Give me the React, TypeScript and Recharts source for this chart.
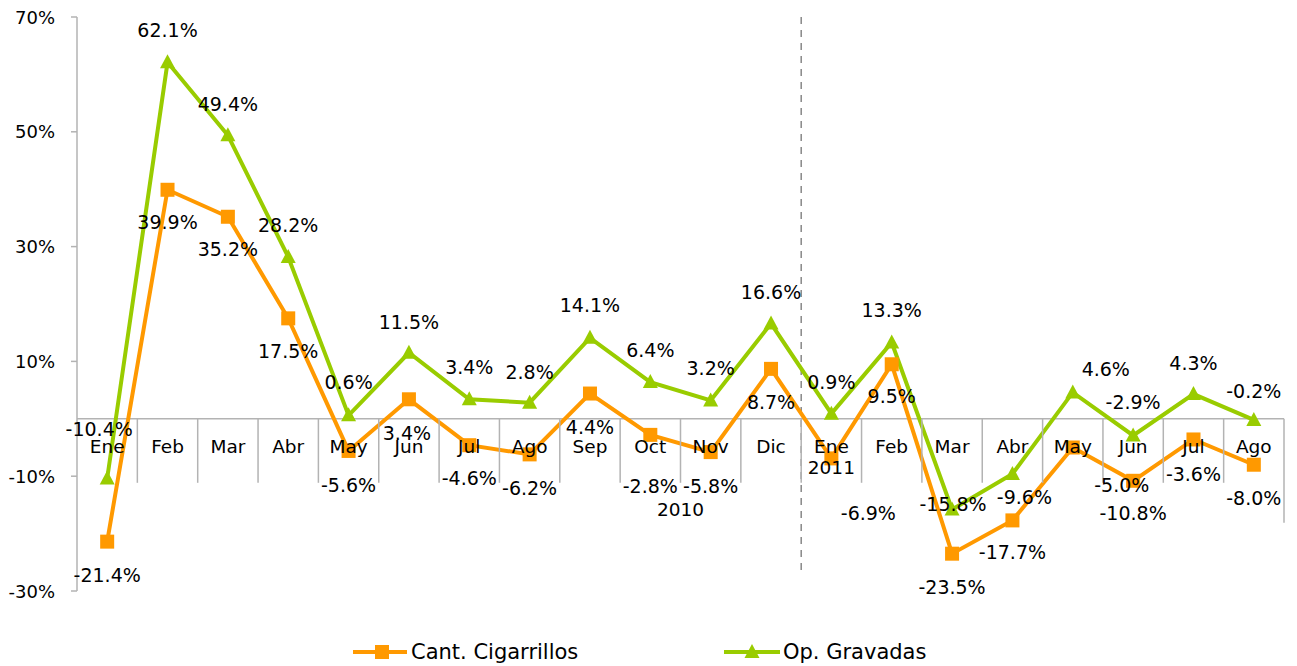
import React from "react";
import { LineChart, Line, XAxis, YAxis, ReferenceLine, LabelList } from "recharts";

const months = ["Ene", "Feb", "Mar", "Abr", "May", "Jun", "Jul", "Ago", "Sep", "Oct", "Nov", "Dic", "Ene", "Feb", "Mar", "Abr", "May", "Jun", "Jul", "Ago"];
const years = ["2010", "2011"];
const cantCigarrillos = [-21.4, 39.9, 35.2, 17.5, -5.6, 3.4, -4.6, -6.2, 4.4, -2.8, -5.8, 8.7, -6.9, 9.5, -23.5, -17.7, -5.0, -10.8, -3.6, -8.0];
const opGravadas = [-10.4, 62.1, 49.4, 28.2, 0.6, 11.5, 3.4, 2.8, 14.1, 6.4, 3.2, 16.6, 0.9, 13.3, -15.8, -9.6, 4.6, -2.9, 4.3, -0.2];
const yTicks = [-30, -10, 10, 30, 50, 70];

// label nudges (px) where the original labels were moved by hand
const orangeDx = [0, 0, 0, 0, 0, -2, 0, 0, 0, 0, 0, 0, 37, 0, 0, 0, 49, 0, 0, 0];
const orangeDy = [33, 32, 32, 33, 34, 34, 33, 34, 33, 51, 34, 33, 55, 32, 33, 32, 37, 32, 35, 33];
const greenDx = [-8, 0, 0, 0, 0, 0, 0, 0, 0, 0, 0, 0, 0, 0, 1, 12, 33, 0, 0, 0];
const greenDy = [-49, -32, -31, -32, -33, -31, -32, -31, -33, -32, -32, -32, -32, -32, -5, 23, -23, -33, -31, -29];

const data = months.map((m, i) => ({
  key: `${m} ${i < 12 ? years[0] : years[1]}`,
  cant: cantCigarrillos[i],
  op: opGravadas[i],
}));

const W = 1297;
const H = 666;
const TOP = 17;
const BOTTOM = 74;
const LEFT = 77;
const RIGHT = 13;
const PLOT_H = H - TOP - BOTTOM - 1;
const PLOT_W = W - LEFT - RIGHT;
const BAND = PLOT_W / months.length;
const ZERO_Y = TOP + (PLOT_H * 70) / 100;

const ORANGE = "#FF9900";
const GREEN = "#99CC00";
const AXIS = "#B3B3B3";
const FONT = "'DejaVu Sans', Verdana, sans-serif";

const fmt = (v: number) => `${v.toFixed(1)}%`;

function MonthTick(props: any) {
  const { x, payload } = props;
  const i = payload?.index ?? props.index;
  const right = x + BAND / 2;
  const last = i === months.length - 1;
  return (
    <g>
      <text x={x} y={ZERO_Y + 28} textAnchor="middle" dominantBaseline="central" fontSize={18.5} fontFamily={FONT} fill="#000">
        {months[i]}
      </text>
      <line x1={right} x2={right} y1={ZERO_Y} y2={ZERO_Y + (last ? 104 : 64)} stroke={AXIS} strokeWidth={1.5} />
      {i === 9 && (
        <text x={right} y={ZERO_Y + 91} textAnchor="middle" dominantBaseline="central" fontSize={18.5} fontFamily={FONT} fill="#000">
          {years[0]}
        </text>
      )}
      {i === 12 && (
        <text x={x} y={ZERO_Y + 49} textAnchor="middle" dominantBaseline="central" fontSize={18.5} fontFamily={FONT} fill="#000">
          {years[1]}
        </text>
      )}
    </g>
  );
}

function PercentTick(props: any) {
  const { x, y, payload } = props;
  return (
    <text x={x} y={y} textAnchor="end" dominantBaseline="central" fontSize={18} fontFamily={FONT} fill="#000">
      {`${payload.value}%`}
    </text>
  );
}

function SquareDot(props: any) {
  const { cx, cy } = props;
  if (cx == null || cy == null) return <g />;
  return <rect x={cx - 7} y={cy - 7} width={14} height={14} fill={ORANGE} />;
}

function TriangleDot(props: any) {
  const { cx, cy } = props;
  if (cx == null || cy == null) return <g />;
  return <path d={`M${cx},${cy - 8} L${cx + 7.5},${cy + 6} L${cx - 7.5},${cy + 6} Z`} fill={GREEN} />;
}

const makeLabel = (dx: number[], dy: number[]) => (p: any) => {
  const { x, y, value, index } = p;
  return (
    <text
      x={x + dx[index]}
      y={y + dy[index]}
      textAnchor="middle"
      dominantBaseline="central"
      fontSize={19}
      fontFamily={FONT}
      fill="#000"
    >
      {fmt(value)}
    </text>
  );
};

function DashedDivider(props: any) {
  const { x1, y1, x2, y2 } = props;
  const top = Math.min(y1, y2);
  const bottom = Math.max(y1, y2);
  return (
    <line
      x1={x1 + BAND / 2}
      y1={top}
      x2={x2 + BAND / 2}
      y2={bottom - 18}
      stroke="#888"
      strokeWidth={1.5}
      strokeDasharray="7 6"
    />
  );
}

export default function App() {
  return (
    <div style={{ position: "absolute", left: 0, top: 0, width: W, height: H, background: "#fff" }}>
      <LineChart width={W} height={H} data={data} margin={{ top: TOP, right: RIGHT, left: 0, bottom: BOTTOM }}>
        <XAxis
          dataKey="key"
          height={1}
          axisLine={false}
          tickLine={false}
          interval={0}
          padding={{ left: BAND / 2, right: BAND / 2 }}
          tick={<MonthTick />}
        />
        <YAxis
          width={LEFT}
          domain={[-30, 70]}
          ticks={yTicks}
          tick={<PercentTick />}
          axisLine={{ stroke: AXIS, strokeWidth: 1.5 }}
          tickLine={{ stroke: AXIS, strokeWidth: 1.5 }}
          tickSize={6}
          tickMargin={16}
        />
        <ReferenceLine y={0} stroke={AXIS} strokeWidth={1.5} />
        <ReferenceLine x={data[11].key} shape={<DashedDivider />} />
        <Line
          dataKey="cant"
          stroke={ORANGE}
          strokeWidth={4}
          dot={<SquareDot />}
          activeDot={false}
          isAnimationActive={false}
        >
          <LabelList dataKey="cant" content={makeLabel(orangeDx, orangeDy)} />
        </Line>
        <Line
          dataKey="op"
          stroke={GREEN}
          strokeWidth={4}
          dot={<TriangleDot />}
          activeDot={false}
          isAnimationActive={false}
        >
          <LabelList dataKey="op" content={makeLabel(greenDx, greenDy)} />
        </Line>
      </LineChart>
      <svg width={W} height={40} style={{ position: "absolute", left: 0, top: 632 }}>
        <g fontFamily={FONT} fontSize={21} fill="#000">
          <line x1={353} x2={407} y1={20} y2={20} stroke={ORANGE} strokeWidth={4} />
          <rect x={375} y={13} width={14} height={14} fill={ORANGE} />
          <text x={411} y={20} dominantBaseline="central">Cant. Cigarrillos</text>
          <line x1={724} x2={780} y1={20} y2={20} stroke={GREEN} strokeWidth={4} />
          <path d="M752,12 L759.5,26 L744.5,26 Z" fill={GREEN} />
          <text x={783} y={20} dominantBaseline="central">Op. Gravadas</text>
        </g>
      </svg>
    </div>
  );
}
